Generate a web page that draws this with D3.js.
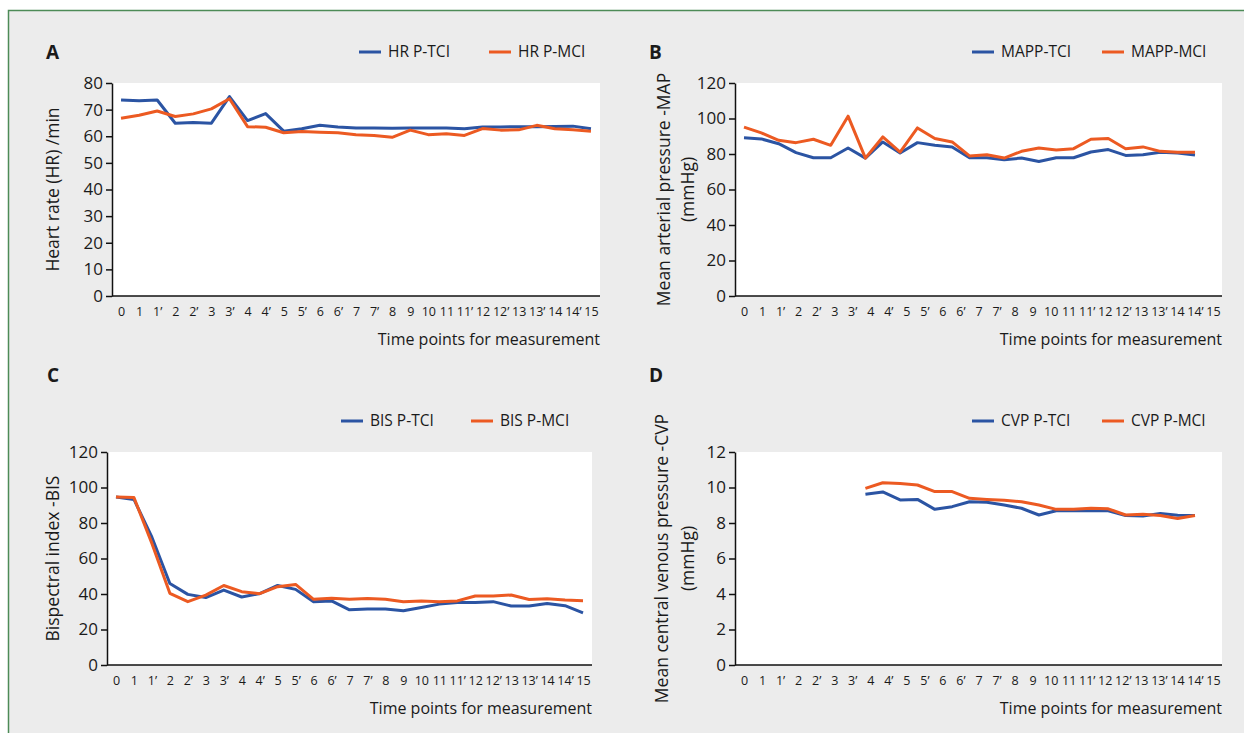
<!DOCTYPE html>
<html>
<head>
<meta charset="utf-8">
<script src="https://cdn.jsdelivr.net/npm/d3@7"></script>
<style>
  body { margin: 0; background: #fff; }
  svg { display: block; }
  text { font-family: 'Open Sans', sans-serif; fill: #1a1a1a; }
</style>
</head>
<body>
<svg width="1244" height="733"></svg>
<script>
// time points (x axis)
const categories = ['0', '1', '1’', '2', '2’', '3', '3’', '4', '4’', '5', '5’', '6', '6’', '7', '7’',
  '8', '9', '10', '11', '11’', '12', '12’', '13', '13’', '14', '14’', '15']

// A - heart rate
const hrTci = [73.6, 73.3, 73.6, 64.9, 65.2, 64.9, 74.9, 65.9, 68.5, 61.9, 62.8, 64.1, 63.5, 63.1,
  63.1, 63.0, 63.1, 63.1, 63.1, 62.8, 63.5, 63.5, 63.6, 63.6, 63.7, 63.8, 62.8]
const hrMci = [66.8, 67.9, 69.5, 67.4, 68.4, 70.3, 74.1, 63.6, 63.4, 61.3, 61.8, 61.5, 61.3, 60.6,
  60.3, 59.6, 62.3, 60.6, 60.9, 60.3, 62.9, 62.3, 62.4, 64.1, 62.8, 62.4, 61.9]

// B - mean arterial pressure
const mapTci = [89.1, 88.5, 85.8, 80.8, 77.9, 77.9, 83.4, 77.7, 86.8, 80.6, 86.4, 84.9, 84.0, 77.9,
  77.9, 76.8, 77.7, 75.8, 77.9, 77.9, 81.1, 82.5, 79.2, 79.6, 81.0, 80.5, 79.4]
const mapMci = [95.1, 91.9, 87.7, 86.4, 88.3, 84.9, 101.3, 77.7, 89.6, 81.1, 94.7, 88.7, 86.8, 78.9,
  79.6, 77.7, 81.5, 83.4, 82.3, 83.0, 88.3, 88.7, 83.0, 84.0, 81.5, 81.0, 81.0]

// C - bispectral index
const bisTci = [94.6, 93.3, 72.0, 45.9, 39.8, 38.0, 42.2, 38.3, 40.2, 44.8, 42.6, 35.6, 36.1, 31.1,
  31.5, 31.5, 30.6, 32.4, 34.3, 35.2, 35.2, 35.7, 33.2, 33.2, 34.7, 33.4, 29.4]
const bisMci = [94.6, 94.3, 68.5, 40.4, 35.7, 39.4, 44.8, 41.3, 40.2, 44.1, 45.4, 37.0, 37.6, 37.0,
  37.4, 37.0, 35.6, 36.1, 35.7, 36.1, 38.9, 38.9, 39.4, 36.9, 37.3, 36.6, 36.2]

// D - central venous pressure (not recorded before time point 4)
const cvpTci = [null, null, null, null, null, null, null, 9.62, 9.75, 9.3, 9.33, 8.77, 8.92, 9.2,
  9.17, 9.01, 8.83, 8.45, 8.69, 8.69, 8.69, 8.69, 8.42, 8.4, 8.53, 8.44, 8.42]
const cvpMci = [null, null, null, null, null, null, null, 9.95, 10.27, 10.23, 10.14, 9.77, 9.77, 9.39,
  9.33, 9.28, 9.2, 9.01, 8.77, 8.77, 8.83, 8.8, 8.45, 8.49, 8.42, 8.25, 8.42]

const hrTicks = [0, 10, 20, 30, 40, 50, 60, 70, 80]
const mapTicks = [0, 20, 40, 60, 80, 100, 120]
const bisTicks = [0, 20, 40, 60, 80, 100, 120]
const cvpTicks = [0, 2, 4, 6, 8, 10, 12]

const BLUE = '#2b54a3'
const ORANGE = '#ec5a22'

const svg = d3.select('svg')

// outer frame
svg.append('rect')
  .attr('x', 8.5).attr('y', 10.5)
  .attr('width', 1300).attr('height', 800)
  .attr('fill', '#ececec')
  .attr('stroke', '#4d8b57')
  .attr('stroke-width', 1.5)

const panels = [
  { letter: 'A', tci: hrTci, mci: hrMci, ticks: hrTicks, names: ['HR P-TCI', 'HR P-MCI'],
    title: ['Heart rate (HR) /min'], titleX: [53],
    left: 112, right: 600, top: 83, bottom: 296, letterX: 46, letterY: 59, legendX: 359, legendY: 52 },
  { letter: 'B', tci: mapTci, mci: mapMci, ticks: mapTicks, names: ['MAPP-TCI', 'MAPP-MCI'],
    title: ['Mean arterial pressure -MAP', '(mmHg)'], titleX: [664, 688],
    left: 735, right: 1222, top: 83, bottom: 296, letterX: 649, letterY: 59, legendX: 972, legendY: 52,
    lineRange: [744, 1195] },
  { letter: 'C', tci: bisTci, mci: bisMci, ticks: bisTicks, names: ['BIS P-TCI', 'BIS P-MCI'],
    title: ['Bispectral index -BIS'], titleX: [53],
    left: 107, right: 592, top: 452, bottom: 665, letterX: 47, letterY: 382, legendX: 341, legendY: 421 },
  { letter: 'D', tci: cvpTci, mci: cvpMci, ticks: cvpTicks, names: ['CVP P-TCI', 'CVP P-MCI'],
    title: ['Mean central venous pressure -CVP', '(mmHg)'], titleX: [662, 688],
    left: 735, right: 1222, top: 452, bottom: 665, letterX: 649, letterY: 382, legendX: 972, legendY: 421,
    lineRange: [744, 1195] }
]

function drawPanel (p) {
  const g = svg.append('g')

  const x = d3.scalePoint().domain(categories).range([p.left, p.right]).padding(0.5)
  // lines in B and D sit slightly compressed against the tick labels
  const xLine = p.lineRange ? d3.scalePoint().domain(categories).range(p.lineRange) : x
  const y = d3.scaleLinear().domain([0, d3.max(p.ticks)]).range([p.bottom, p.top])

  g.append('rect')
    .attr('x', p.left).attr('y', p.top)
    .attr('width', p.right - p.left).attr('height', p.bottom - p.top)
    .attr('fill', '#fff')

  const yAxis = g.append('g')
    .attr('transform', `translate(${p.left},0)`)
    .call(d3.axisLeft(y).tickValues(p.ticks).tickSize(6).tickSizeOuter(0).tickPadding(3))
  yAxis.selectAll('text').attr('font-size', 17).attr('font-family', null).attr('fill', '#1a1a1a')
  yAxis.selectAll('line, path').attr('stroke', '#111').attr('stroke-width', 1.5)

  const xAxis = g.append('g')
    .attr('transform', `translate(0,${p.bottom})`)
    .call(d3.axisBottom(x).tickSize(0).tickSizeOuter(0).tickPadding(11))
  xAxis.selectAll('text').attr('font-size', 12.5).attr('font-family', null).attr('fill', '#1a1a1a')
  xAxis.select('.domain').attr('stroke', '#111').attr('stroke-width', 1.5)
    .attr('d', `M${p.left},0H${p.right}`)

  const line = d3.line()
    .defined(d => d.v !== null)
    .x(d => xLine(d.c))
    .y(d => y(d.v))

  const series = [[p.tci, BLUE], [p.mci, ORANGE]]
  series.forEach(([vals, col]) => {
    g.append('path')
      .datum(categories.map((c, i) => ({ c: c, v: vals[i] })))
      .attr('fill', 'none')
      .attr('stroke', col)
      .attr('stroke-width', 3)
      .attr('stroke-linejoin', 'round')
      .attr('d', line)
  })

  // axis titles
  g.append('text')
    .attr('x', p.right).attr('y', p.bottom + 49)
    .attr('text-anchor', 'end')
    .attr('font-size', 16)
    .text('Time points for measurement')

  const midY = (p.top + p.bottom) / 2
  p.title.forEach((t, i) => {
    g.append('text')
      .attr('transform', `translate(${p.titleX[i]},${midY}) rotate(-90)`)
      .attr('text-anchor', 'middle')
      .attr('dy', '0.35em')
      .attr('font-size', 17.5)
      .text(t)
  })

  // panel letter
  g.append('text')
    .attr('x', p.letterX).attr('y', p.letterY)
    .attr('font-size', 19).attr('font-weight', 'bold')
    .text(p.letter)

  // legend
  series.forEach(([vals, col], i) => {
    const lx = p.legendX + i * 130
    g.append('line')
      .attr('x1', lx).attr('x2', lx + 22)
      .attr('y1', p.legendY).attr('y2', p.legendY)
      .attr('stroke', col).attr('stroke-width', 3)
    g.append('text')
      .attr('x', lx + 29).attr('y', p.legendY)
      .attr('dy', '0.35em')
      .attr('font-size', 15.5)
      .text(p.names[i])
  })
}

panels.forEach(drawPanel)
</script>
</body>
</html>
